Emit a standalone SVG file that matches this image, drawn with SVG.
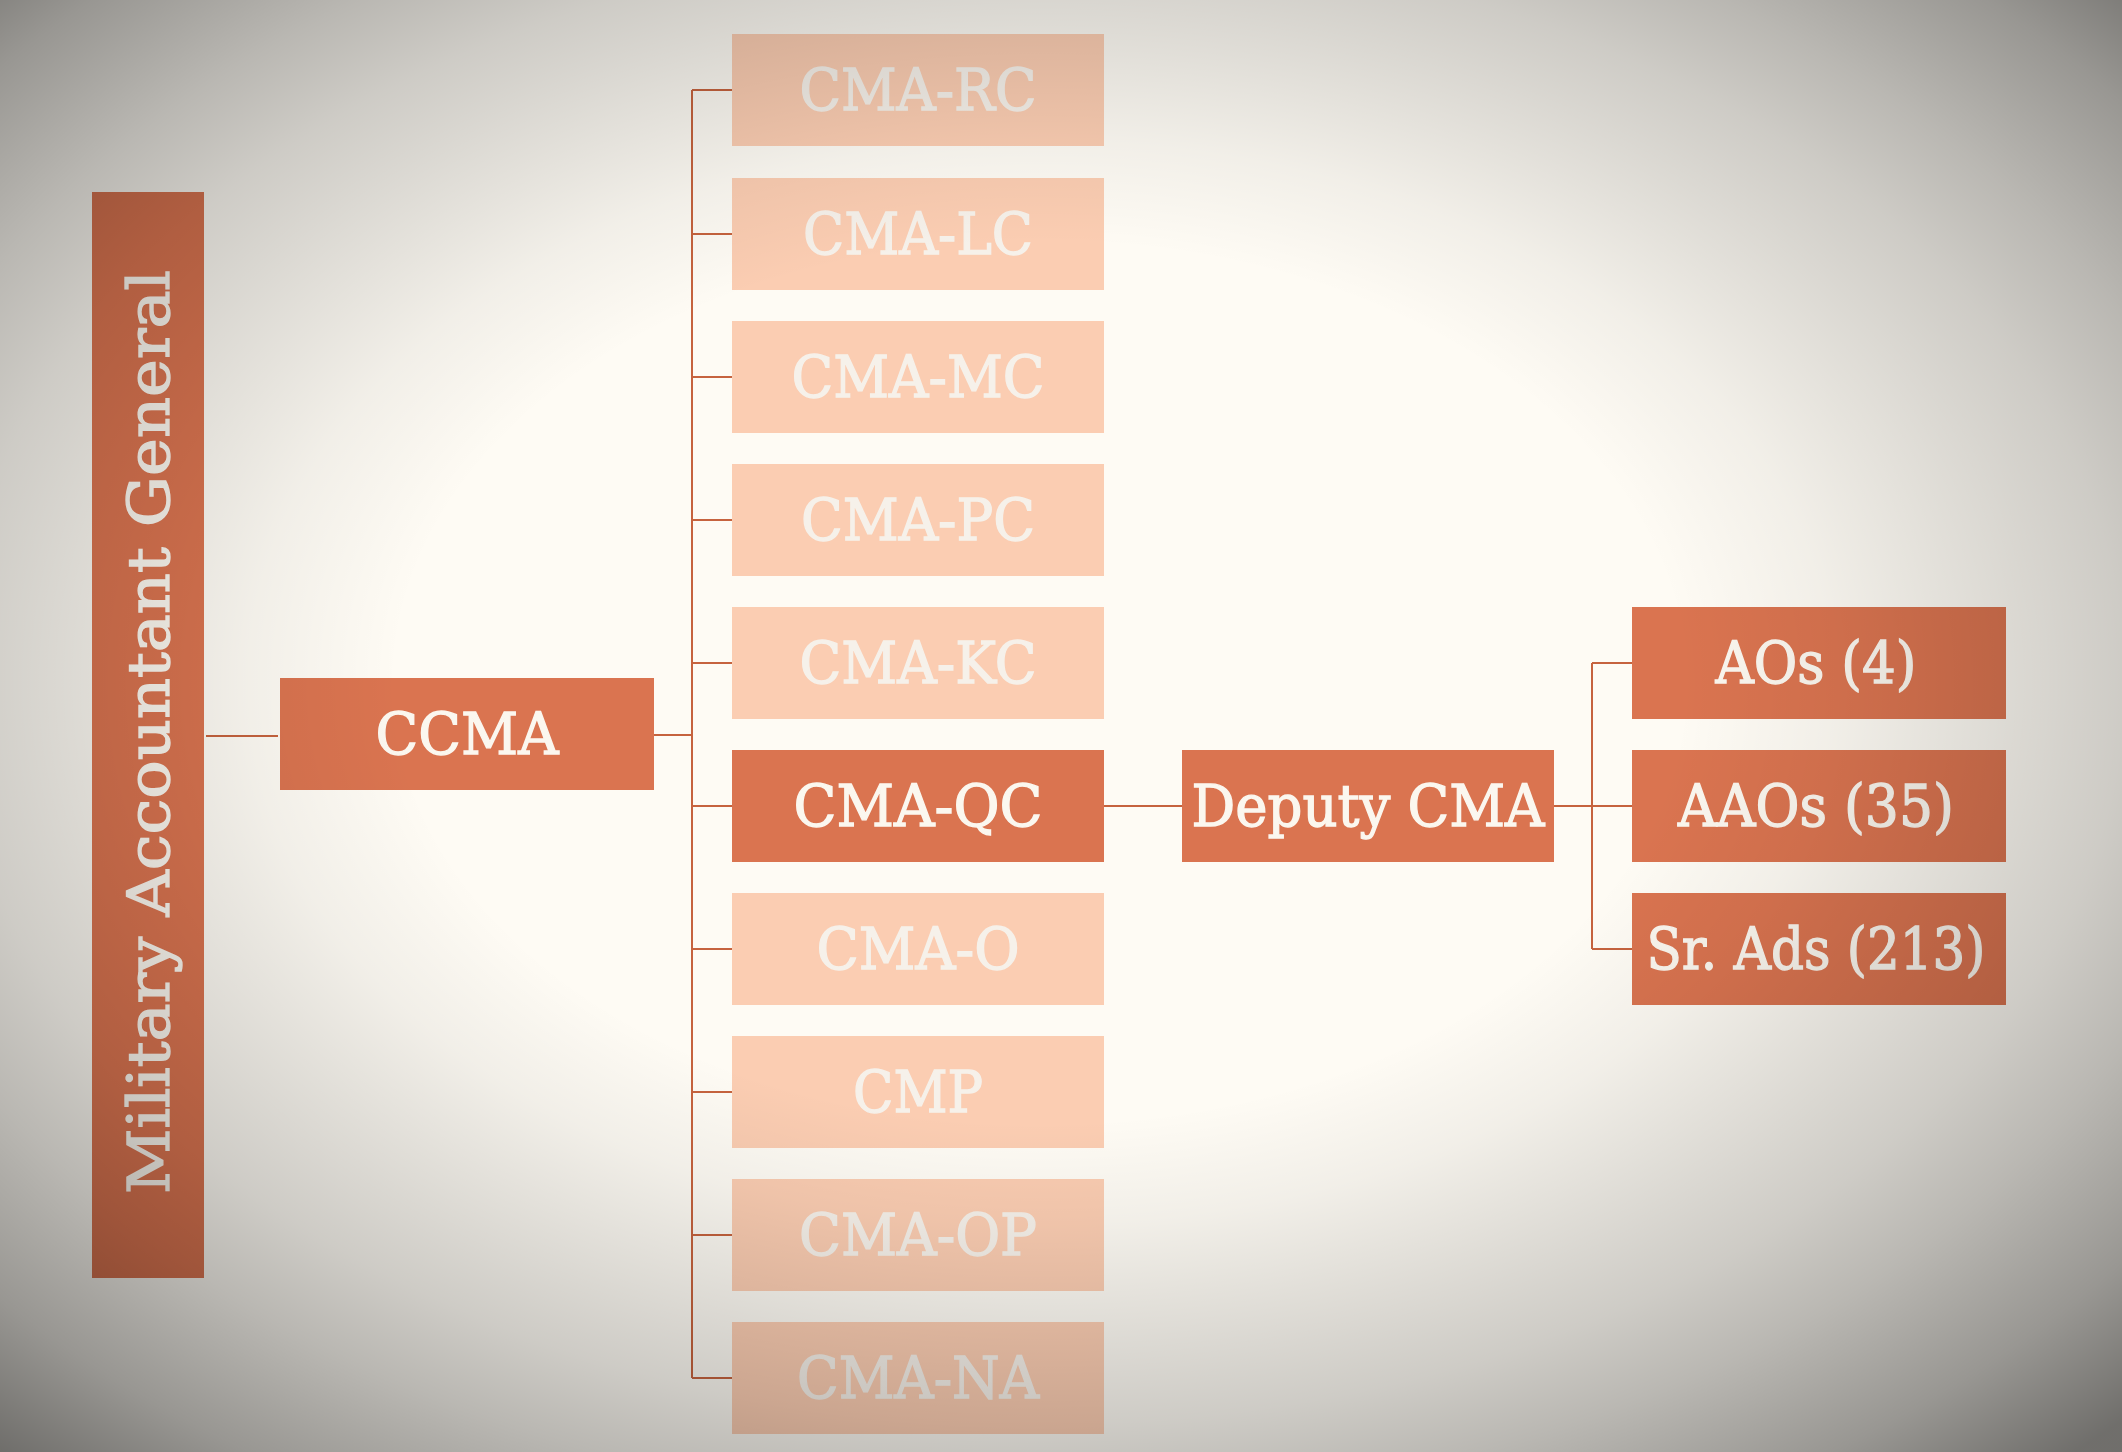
<svg xmlns="http://www.w3.org/2000/svg" width="2122" height="1452" viewBox="0 0 2122 1452">
<style>
.dark{fill:#DA7450}
.light{fill:#FBCDB2}
.t{font-family:"DejaVu Serif","Liberation Serif",serif;font-size:57px;fill:#FBF7EF;stroke:#FBF7EF;stroke-width:1.3;text-anchor:middle}
.tl{fill:#F6F1EA;stroke:#F6F1EA}
.con{stroke:#C6633E;stroke-width:2;fill:none}
</style>
<defs>
<radialGradient id="vig" cx="0.49" cy="0.47" r="0.72" gradientUnits="objectBoundingBox">
<stop offset="0" stop-color="#000" stop-opacity="0"/>
<stop offset="0.42" stop-color="#000" stop-opacity="0"/>
<stop offset="0.52" stop-color="#000" stop-opacity="0.05"/>
<stop offset="0.71" stop-color="#000" stop-opacity="0.19"/>
<stop offset="0.79" stop-color="#000" stop-opacity="0.27"/>
<stop offset="0.9" stop-color="#000" stop-opacity="0.40"/>
<stop offset="1" stop-color="#000" stop-opacity="0.56"/>
</radialGradient>
</defs>
<rect x="0" y="0" width="2122" height="1452" fill="#FEFBF4"/>
<g id="connectors">
<path class="con" d="M206 736H278"/>
<path class="con" d="M654 735H692"/>
<path class="con" d="M692 90V1378"/>
<path class="con" d="M692 90H732M692 234H732M692 377H732M692 520H732M692 663H732M692 806H732M692 949H732M692 1092H732M692 1235H732M692 1378H732"/>
<path class="con" d="M1104 806H1182"/>
<path class="con" d="M1554 806H1632"/>
<path class="con" d="M1592 663V949M1592 663H1632M1592 949H1632"/>
</g>
<g id="mag"><rect class="dark" x="92" y="192" width="112" height="1086"/><text class="t" font-size="70" textLength="924" lengthAdjust="spacingAndGlyphs" transform="translate(169,732) rotate(-90)" x="0" y="0">Military Accountant General</text></g>
<g id="ccma"><rect class="dark" x="280" y="678" width="374" height="112"/><text class="t" x="467" y="754" textLength="183" lengthAdjust="spacingAndGlyphs">CCMA</text></g>
<g id="cma-rc"><rect class="light" x="732" y="34" width="372" height="112"/><text class="t tl" x="918" y="110" textLength="237" lengthAdjust="spacingAndGlyphs">CMA-RC</text></g>
<g id="cma-lc"><rect class="light" x="732" y="178" width="372" height="112"/><text class="t tl" x="918" y="254" textLength="230" lengthAdjust="spacingAndGlyphs">CMA-LC</text></g>
<g id="cma-mc"><rect class="light" x="732" y="321" width="372" height="112"/><text class="t tl" x="918" y="397" textLength="253" lengthAdjust="spacingAndGlyphs">CMA-MC</text></g>
<g id="cma-pc"><rect class="light" x="732" y="464" width="372" height="112"/><text class="t tl" x="918" y="540" textLength="234" lengthAdjust="spacingAndGlyphs">CMA-PC</text></g>
<g id="cma-kc"><rect class="light" x="732" y="607" width="372" height="112"/><text class="t tl" x="918" y="683" textLength="237" lengthAdjust="spacingAndGlyphs">CMA-KC</text></g>
<g id="cma-qc"><rect class="dark" x="732" y="750" width="372" height="112"/><text class="t" x="918" y="826" textLength="249" lengthAdjust="spacingAndGlyphs">CMA-QC</text></g>
<g id="cma-o"><rect class="light" x="732" y="893" width="372" height="112"/><text class="t tl" x="918" y="969" textLength="203" lengthAdjust="spacingAndGlyphs">CMA-O</text></g>
<g id="cmp"><rect class="light" x="732" y="1036" width="372" height="112"/><text class="t tl" x="918" y="1112" textLength="130" lengthAdjust="spacingAndGlyphs">CMP</text></g>
<g id="cma-op"><rect class="light" x="732" y="1179" width="372" height="112"/><text class="t tl" x="918" y="1255" textLength="238" lengthAdjust="spacingAndGlyphs">CMA-OP</text></g>
<g id="cma-na"><rect class="light" x="732" y="1322" width="372" height="112"/><text class="t tl" x="918" y="1398" textLength="242" lengthAdjust="spacingAndGlyphs">CMA-NA</text></g>
<g id="deputy"><rect class="dark" x="1182" y="750" width="372" height="112"/><text class="t" x="1368" y="826" textLength="353" lengthAdjust="spacingAndGlyphs">Deputy CMA</text></g>
<g id="aos"><rect class="dark" x="1632" y="607" width="374" height="112"/><text class="t" x="1816" y="683" textLength="201" lengthAdjust="spacingAndGlyphs">AOs (4)</text></g>
<g id="aaos"><rect class="dark" x="1632" y="750" width="374" height="112"/><text class="t" x="1816" y="826" textLength="276" lengthAdjust="spacingAndGlyphs">AAOs (35)</text></g>
<g id="srads"><rect class="dark" x="1632" y="893" width="374" height="112"/><text class="t" x="1816" y="969" textLength="339" lengthAdjust="spacingAndGlyphs">Sr. Ads (213)</text></g>
<rect x="0" y="0" width="2122" height="1452" fill="url(#vig)" pointer-events="none"/>
</svg>
